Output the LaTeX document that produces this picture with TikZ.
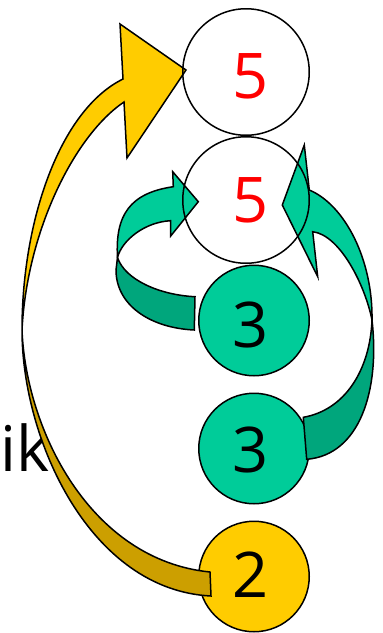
\documentclass[tikz,border=0pt]{standalone}
\usepackage{fontspec}
\setmainfont{Open Sans}
\definecolor{gold}{HTML}{FFCC00}
\definecolor{golddark}{HTML}{CC9F00}
\definecolor{teal1}{HTML}{00CC99}
\definecolor{teal2}{HTML}{00A67C}
\begin{document}
\begin{tikzpicture}[x=1pt,y=-1pt,
  ring/.style={circle,draw=black,line width=1.5pt,inner sep=0pt,minimum size=#1},
  digit/.style={inner sep=0pt,anchor=base,font=\fontsize{63}{63}\selectfont},
  band/.style={draw=black,line width=1.5pt}]
\useasboundingbox (0,0) rectangle (383,633);
% label
\node[digit,anchor=base west] (ik) at (0,471) {ik};
% filled circles
\node[ring=110.5pt,fill=teal1] (c3a) at (254,320.5) {};
\node[ring=110.5pt,fill=teal1] (c3b) at (254,448.5) {};
\node[ring=110.5pt,fill=gold] (c2) at (254,576.5) {};
\node[digit] (t3a) at (251,347) {3};
\node[digit] (t3b) at (251,472) {3};
\node[digit] (t2) at (251,597) {2};
% yellow curved arrow: back then front
\filldraw[band,fill=golddark] (22,330) .. controls (22,440) and (90,590) .. (211,596)
  -- (210,572) .. controls (90,560) and (26,430) .. (22,330) -- cycle;
\filldraw[band,fill=gold] (123,79) -- (120,24) -- (186,70) -- (127,158) -- (124,102)
  .. controls (75,135) and (27,230) .. (22,330)
  .. controls (22,220) and (60,110) .. (123,79) -- cycle;
% left green arrow
\filldraw[band,fill=teal2] (117.5,257.5) .. controls (125,280) and (160,295) .. (195,296.7)
  -- (194.3,330) .. controls (150,328) and (116,305) .. (116,270) -- cycle;
\filldraw[band,fill=teal1] (173.3,186.7) -- (172.7,171.7) -- (198.3,201.7) -- (170.7,236) -- (170.7,220.7)
  .. controls (145,222) and (122,240) .. (117.5,257.5)
  .. controls (115,215) and (130,193) .. (173.3,186.7) -- cycle;
% right green arrow
\filldraw[band,fill=teal2] (372,320) .. controls (380,390) and (360,455) .. (306.7,459.3)
  -- (303.3,417.3) .. controls (345,410) and (370,370) .. (372,320) -- cycle;
\filldraw[band,fill=teal1] (309.3,190) -- (304.3,145) -- (282.3,205) -- (317.7,276.7) -- (312.7,231.7)
  .. controls (340,235) and (365,285) .. (372,320)
  .. controls (373,260) and (345,205) .. (309.3,190) -- cycle;
% open circles with red fives
\node[ring=126.5pt] (c5a) at (246,72) {};
\node[ring=126.5pt] (c5b) at (246,200) {};
\node[digit,text=red] (t5a) at (251,98) {5};
\node[digit,text=red] (t5b) at (251,222) {5};
\end{tikzpicture}
\end{document}
